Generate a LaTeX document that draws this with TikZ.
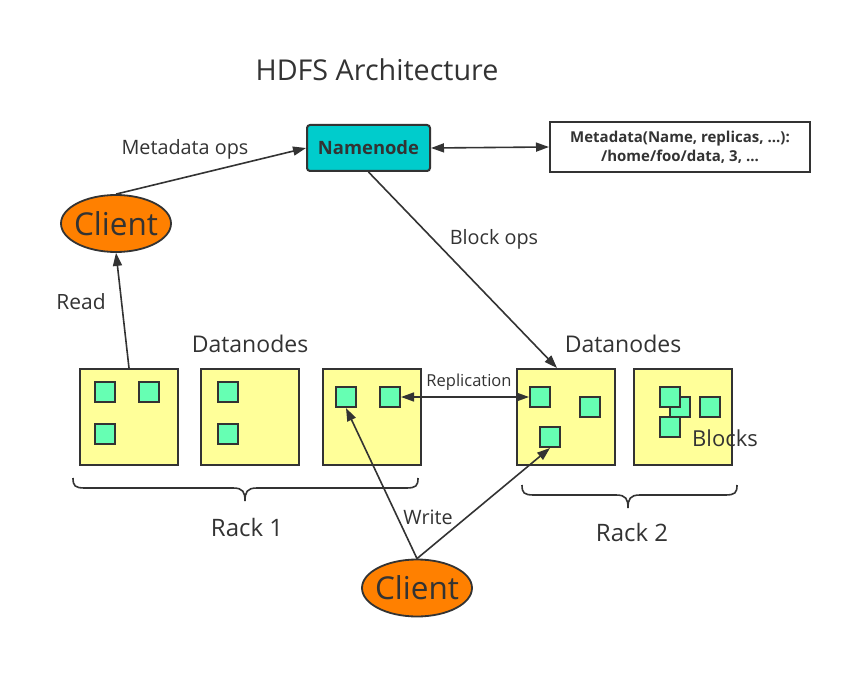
\documentclass[tikz,border=0pt]{standalone}
\usepackage{fontspec}
\setmainfont{Open Sans}
\usetikzlibrary{shapes.geometric,arrows.meta,calc}
\definecolor{ink}{HTML}{333333}
\definecolor{dnfill}{HTML}{FFFF99}
\definecolor{blk}{HTML}{66FFB3}
\definecolor{nnfill}{HTML}{00CCCC}
\definecolor{clfill}{HTML}{FF8000}
\tikzset{
  dnbox/.style={draw=ink, line width=2pt, fill=dnfill, minimum width=98pt, minimum height=96pt, inner sep=0pt},
  blkbox/.style={draw=ink, line width=2pt, fill=blk, minimum width=20pt, minimum height=20pt, inner sep=0pt},
  client/.style={ellipse, draw=ink, line width=1.8pt, fill=clfill, minimum width=110pt, minimum height=57pt, inner sep=0pt},
  clienttext/.style={text=ink, inner sep=0pt, font=\fontsize{31.5}{31.5}\selectfont},
  lbl/.style={text=ink, inner sep=0pt},
  conn/.style={draw=ink, line width=1.6pt, -{Triangle[length=13pt,width=9pt]}},
  dconn/.style={draw=ink, line width=1.6pt, {Triangle[length=13pt,width=9pt]}-{Triangle[length=13pt,width=9pt]}},
  bracepath/.style={draw=ink, line width=1.6pt}
}
\begin{document}
\begin{tikzpicture}[x=1pt,y=-1pt]
\useasboundingbox[fill=white] (0,0) rectangle (842,692);
% title
\node[lbl, font=\fontsize{28.7}{28.7}\selectfont] (title) at (377,70) {HDFS Architecture};
% namenode and metadata
\node[draw=ink, line width=2pt, fill=nnfill, rounded corners=3pt, minimum width=123pt, minimum height=46pt, inner sep=0pt, text=ink, font=\fontsize{18.4}{18.4}\selectfont\bfseries] (nn) at (368.5,148) {Namenode};
\node[draw=ink, line width=2pt, fill=white, minimum width=260pt, minimum height=50pt, inner sep=0pt, align=center, text=ink, font=\fontsize{15}{19}\selectfont\bfseries] (meta) at (680,147) {Metadata(Name, replicas, ...):\\/home/foo/data, 3, ...};
% clients
\node[client] (c1) at (116,223.5) {};
\node[clienttext] (c1t) at (c1.center) {Client};
\node[client] (c2) at (417,588) {};
\node[clienttext] (c2t) at (c2.center) {Client};
% datanodes
\node[dnbox] (d1) at (129,417) {};
\node[dnbox] (d2) at (250,417) {};
\node[dnbox] (d3) at (371.5,417) {};
\node[dnbox] (d4) at (566,417) {};
\node[dnbox] (d5) at (683,417) {};
% blocks
\node[blkbox] (b11) at (105,392) {};
\node[blkbox] (b12) at (149,392) {};
\node[blkbox] (b13) at (105,434) {};
\node[blkbox] (b21) at (228,392) {};
\node[blkbox] (b22) at (228,434) {};
\node[blkbox] (b31) at (346,397) {};
\node[blkbox] (b32) at (390,397) {};
\node[blkbox] (b41) at (540,397) {};
\node[blkbox] (b42) at (590,407) {};
\node[blkbox] (b43) at (550,437) {};
\node[blkbox] (b52) at (680,407) {};
\node[blkbox] (b51) at (670,397) {};
\node[blkbox] (b54) at (670,427) {};
\node[blkbox] (b53) at (710,407) {};
% labels
\node[lbl, font=\fontsize{23}{23}\selectfont] (dl1) at (250,344) {Datanodes};
\node[lbl, font=\fontsize{23}{23}\selectfont] (dl2) at (623,344) {Datanodes};
\node[lbl, font=\fontsize{22}{22}\selectfont] (blocks) at (725,438) {Blocks};
\node[lbl, font=\fontsize{24}{24}\selectfont] (r1) at (247,527) {Rack 1};
\node[lbl, font=\fontsize{24}{24}\selectfont] (r2) at (632,532) {Rack 2};
\node[lbl, font=\fontsize{19.8}{19.8}\selectfont] (mo) at (185,149) {Metadata ops};
\node[lbl, font=\fontsize{19.8}{19.8}\selectfont] (bo) at (494,239) {Block ops};
\node[lbl, font=\fontsize{21}{21}\selectfont] (rd) at (81,302) {Read};
\node[lbl, font=\fontsize{19.8}{19.8}\selectfont] (wr) at (428,517) {Write};
\node[lbl, font=\fontsize{16.5}{16.5}\selectfont] (rep) at (469,382) {Replication};
% connectors
\draw[conn] (c1.north) -- (nn.west);
\draw[dconn] (nn.east) -- (meta.west);
\draw[conn] (nn.south) -- ($(d4.north)+(-9,0)$);
\draw[conn] (d1.north) -- (c1.south);
\draw[dconn] (b32.east) -- (b41.west);
\draw[conn] (c2.north) -- (b31.south);
\draw[conn] (c2.north) -- (b43.south);
% braces
\draw[bracepath] (73,478) .. controls (73,486) and (75,488) .. (85,488) -- (233,488) .. controls (243,488) and (245,492) .. (245,501) .. controls (245,492) and (247,488) .. (257,488) -- (406,488) .. controls (416,488) and (418,486) .. (418,478);
\draw[bracepath] (522,485) .. controls (522,493) and (524,495) .. (534,495) -- (616,495) .. controls (626,495) and (628,499) .. (628,508) .. controls (628,499) and (630,495) .. (640,495) -- (725,495) .. controls (735,495) and (737,493) .. (737,485);
\end{tikzpicture}
\end{document}
